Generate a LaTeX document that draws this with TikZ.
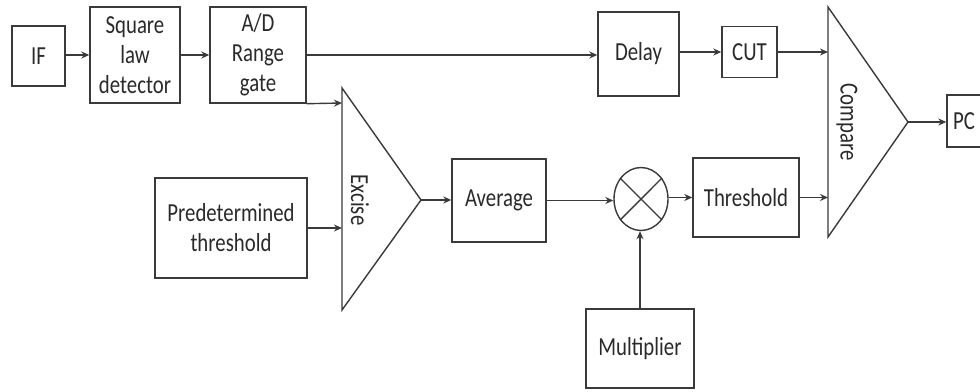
\documentclass[tikz,border=0pt]{standalone}
\usepackage{fontspec}
\setmainfont{Carlito}[FakeStretch=0.8]
\usetikzlibrary{arrows.meta,shapes.geometric}
\definecolor{ink}{HTML}{3A3A3A}
\definecolor{txt}{HTML}{2A2A2A}
\tikzset{
  blk/.style={draw=ink, line width=1.4pt, rectangle, inner sep=0pt, align=center,
              text=txt, font=\fontsize{26}{30}\selectfont},
  amp/.style={draw=ink, line width=1.4pt, line join=miter},
  lbl/.style={text=txt, font=\fontsize{26}{30}\selectfont, inner sep=0pt, rotate=-90},
  conn/.style={draw=ink, line width=1.4pt, -{Stealth[length=8pt,width=7pt]}},
  plain/.style={draw=ink, line width=1.4pt}
}
\begin{document}
\begin{tikzpicture}[x=1pt,y=-1pt]
\clip (0,0) rectangle (980,391);
\fill[white] (0,0) rectangle (980,391);

% processing blocks
\node[blk, minimum width=53pt, minimum height=60pt] (if) at (38.5,56) {IF};
\node[blk, minimum width=90pt, minimum height=96pt] (sq) at (135,55) {Square\\law\\detector};
\node[blk, minimum width=96pt, minimum height=96pt] (ad) at (258,55) {A/D\\Range\\gate};
\node[blk, minimum width=81pt, minimum height=84pt] (delay) at (638.5,54) {Delay};
\node[blk, minimum width=55pt, minimum height=51pt] (cut) at (749.5,52) {CUT};
\node[blk, minimum width=56pt, minimum height=52pt, text width=44pt, align=left] (pc) at (975,121) {PC};
\node[blk, minimum width=152pt, minimum height=100pt] (pred) at (231,228) {Predetermined\\threshold};
\node[blk, minimum width=94pt, minimum height=83pt] (avg) at (499,200.5) {Average};
\node[blk, minimum width=106pt, minimum height=79pt] (thr) at (746,197.5) {Threshold};
\node[blk, minimum width=108pt, minimum height=79pt] (mul) at (640,348.5) {Multiplier};

% mixer
\node[draw=ink, line width=1.4pt, ellipse, minimum width=54pt, minimum height=63pt, inner sep=0pt] (mix) at (641,199) {};
\draw[plain] (mix.45) -- (mix.225);
\draw[plain] (mix.135) -- (mix.315);

% excise and compare stages
\draw[amp] (342,88) -- (342,310) -- (421,200) -- cycle;
\coordinate (exA) at (342,103);
\coordinate (exB) at (342,228);
\coordinate (exO) at (421,200);
\node[lbl] (excise) at (360,200) {Excise};

\draw[amp] (828,7) -- (828,237) -- (908,122) -- cycle;
\coordinate (cmA) at (828,52);
\coordinate (cmB) at (828,197.5);
\coordinate (cmO) at (908,122);
\node[lbl] (compare) at (847,122) {Compare};

% signal flow
\draw[conn] (if.east |- sq.west) -- (sq.west);
\draw[conn] (sq.east) -- (ad.west);
\draw[conn] (ad.east) -- (ad.east -| delay.west);
\draw[conn] (delay.east |- cut.west) -- (cut.west);
\draw[conn] (cut.east) -- (cut.east -| cmA);
\draw[conn] (ad.south east) -- (exA);
\draw[conn] (pred.east) -- (exB);
\draw[conn] (exO) -- (exO -| avg.west);
\draw[conn] (avg.east) -- (avg.east -| mix.west);
\draw[conn] (mix.east |- thr.west) -- (thr.west);
\draw[conn] (thr.east) -- (cmB);
\draw[conn] (cmO) -- (cmO -| pc.west);
\draw[conn] (mul.north) -- (mul.north |- mix.south);
\end{tikzpicture}
\end{document}
